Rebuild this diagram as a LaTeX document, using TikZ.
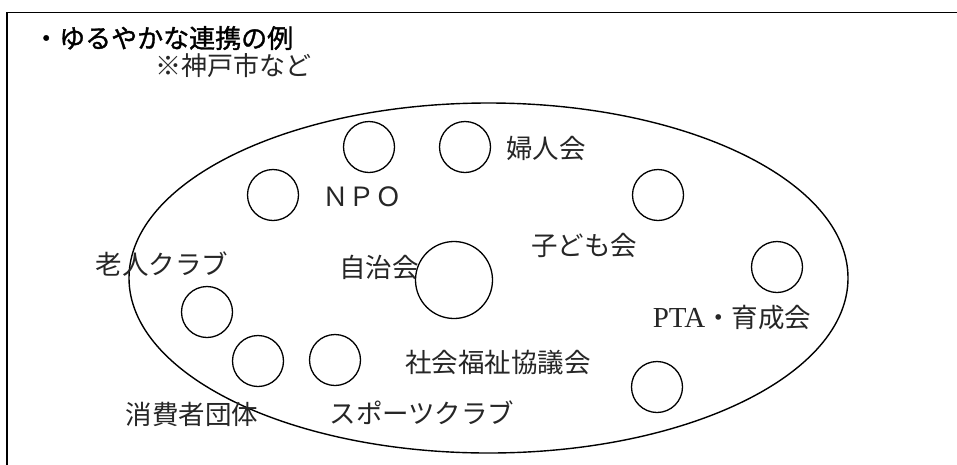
\documentclass[tikz,border=0pt]{standalone}
\usepackage{fontspec}
\usetikzlibrary{shapes.geometric}
\setmainfont{Noto Sans CJK JP}
\newfontfamily\latinserif{Liberation Serif}
\newfontfamily\titlefont[FakeBold=1.3]{Noto Sans CJK JP}
\tikzset{
  org/.style={circle, draw, line width=1.3pt, minimum size=51pt, inner sep=0pt},
  bigorg/.style={circle, draw, line width=1.3pt, minimum size=77pt, inner sep=0pt},
  lbl/.style={inner sep=0pt, font=\fontsize{26.5}{30}\selectfont, text=black!85},
  ttl/.style={inner sep=0pt, font=\fontsize{26}{30}\selectfont, text=black, anchor=west}
}
\begin{document}
\begin{tikzpicture}[x=1pt, y=-1pt]
\useasboundingbox (0,0) rectangle (957,464);
\clip (0,0) rectangle (957,464);
\fill[white] (0,0) rectangle (957,464);
% frame
\draw[line width=1.6pt] (7,480) -- (7,12.5) -- (975,12.5);
% title
\node[ttl, font=\fontsize{26}{30}\titlefont] (title) at (33,38) {・ゆるやかな連携の例};
\node[ttl, text=black!85] (note) at (155,66) {※神戸市など};
% big ellipse
\node[ellipse, draw, line width=1.4pt, minimum width=719pt, minimum height=350pt, inner sep=0pt] (all) at (488.5,278) {};
% circles
\node[org] (c1) at (369,147) {};
\node[org] (c2) at (465,147) {};
\node[org] (c3) at (273,195) {};
\node[bigorg] (c4) at (454,280) {};
\node[org] (c5) at (658,195) {};
\node[org] (c6) at (777,267) {};
\node[org] (c7) at (207,312) {};
\node[org] (c8) at (258,361) {};
\node[org] (c9) at (335,360) {};
\node[org] (c10) at (657,387) {};
% labels
\node[lbl] (l1) at (546,148) {婦人会};
\node[lbl] (l2) at (362,197) {ＮＰＯ};
\node[lbl] (l3) at (584,245) {子ども会};
\node[lbl] (l4) at (162,264) {老人クラブ};
\node[lbl] (l5) at (379,267) {自治会};
\node[lbl] (l6) at (732,318) {{\fontsize{29}{30}\latinserif PTA}・育成会};
\node[lbl] (l7) at (498,362) {社会福祉協議会};
\node[lbl] (l8) at (192,414) {消費者団体};
\node[lbl] (l9) at (422,413) {スポーツクラブ};
\end{tikzpicture}
\end{document}
